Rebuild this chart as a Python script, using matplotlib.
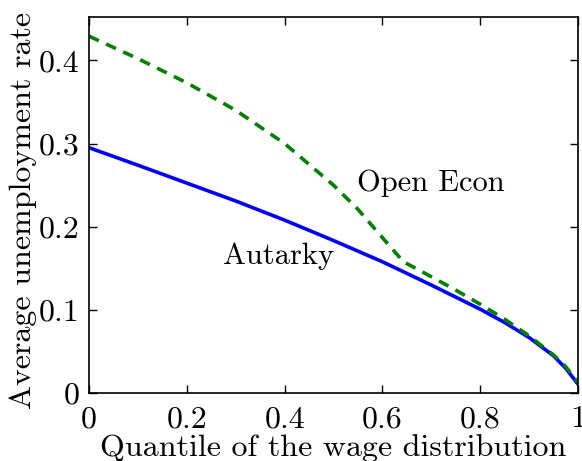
import numpy as np
import matplotlib
matplotlib.use("Agg")
import matplotlib.pyplot as plt

autarky_q = [0, 0.1, 0.2, 0.3, 0.4, 0.5, 0.6, 0.7, 0.8, 0.85, 0.9, 0.95, 0.975, 1.0]
autarky_u = [0.295, 0.274, 0.2525, 0.231, 0.208, 0.1835, 0.158, 0.130, 0.101, 0.085, 0.067, 0.045, 0.030, 0.011]

open_q = [0, 0.1, 0.2, 0.3, 0.4, 0.5, 0.55, 0.6, 0.643, 0.7, 0.75, 0.8, 0.85, 0.9, 0.95, 0.975, 1.0]
open_u = [0.429, 0.402, 0.373, 0.340, 0.300, 0.250, 0.221, 0.187, 0.158, 0.140, 0.124, 0.107, 0.089,
          0.069, 0.046, 0.032, 0.013]

xticks = [0, 0.2, 0.4, 0.6, 0.8, 1]
xticklabels = ["0", "0.2", "0.4", "0.6", "0.8", "1"]
yticks = [0, 0.1, 0.2, 0.3, 0.4]
yticklabels = ["0", "0.1", "0.2", "0.3", "0.4"]

plt.rcParams['font.family'] = ['cmr10', 'DejaVu Serif']
plt.rcParams['mathtext.fontset'] = 'cm'
plt.rcParams['axes.formatter.use_mathtext'] = True


def main():
    fig = plt.figure(figsize=(5.82, 4.61), dpi=100)
    ax = fig.add_axes([0.153, 0.147, 0.840, 0.816])

    ax.plot(autarky_q, autarky_u, color='#0000ff', linewidth=2.6, solid_joinstyle='round')
    ax.plot(open_q, open_u, color='#008000', linewidth=2.6, linestyle=(0, (3, 2.2)))

    ax.text(0.387, 0.164, "Autarky", fontsize=22, ha='center', va='center')
    ax.text(0.70, 0.252, "Open Econ", fontsize=22, ha='center', va='center')

    ax.set_xlim(0, 1)
    ax.set_ylim(0, 0.452)
    ax.set_xticks(xticks)
    ax.set_xticklabels(xticklabels)
    ax.set_yticks(yticks)
    ax.set_yticklabels(yticklabels)
    ax.tick_params(direction='in', top=True, right=True, labelsize=23, length=6, width=1)
    ax.tick_params(axis='y', pad=7)
    ax.tick_params(axis='x', pad=9)
    for s in ax.spines.values():
        s.set_linewidth(1.2)

    ax.set_xlabel("Quantile of the wage distribution", fontsize=23, labelpad=1)
    ax.set_ylabel("Average unemployment rate", fontsize=23, labelpad=1, y=0.485)

    fig.savefig("out.png", dpi=100)
    plt.close(fig)


if __name__ == "__main__":
    main()
